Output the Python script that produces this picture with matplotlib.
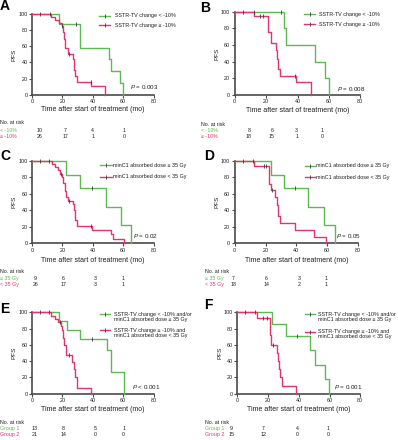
import matplotlib
matplotlib.use('Agg')
import matplotlib.pyplot as plt
from matplotlib.lines import Line2D
import numpy as np

plt.rcParams['font.family'] = ['Liberation Sans', 'DejaVu Sans']
plt.rcParams['mathtext.fontset'] = 'custom'
plt.rcParams['mathtext.it'] = 'Liberation Sans:italic'
plt.rcParams['mathtext.rm'] = 'Liberation Sans'

# ---------------- data ----------------
# Panel A
A_green_t = [0, 18, 31.5, 50.5, 52, 58, 60]
A_green_s = [100, 87.5, 58.3, 43.8, 29.2, 14.6, 0]
A_green_cens = [5, 12, 29]
A_red_t = [0, 12.5, 15, 18, 19.5, 20.3, 21, 22, 23.5, 27, 27.8, 28.5, 29.3, 39, 48.3]
A_red_s = [100, 96.2, 92.3, 88.5, 84.6, 76.9, 69.2, 57.7, 50, 43.8, 31.3, 23.1, 16.5, 11, 0]
A_red_cens = [19.5, 24, 38.5]
A_risk_green = [10, 7, 4, 1]
A_risk_red = [26, 17, 1, 0]

# Panel B
B_green_t = [0, 31.4, 32.5, 51, 57.3, 60]
B_green_s = [100, 80, 60, 40, 20, 0]
B_green_cens = [5.5, 12, 29.7]
B_red_t = [0, 12, 21, 23.4, 26, 27, 27.6, 28.7, 38.9, 48.4]
B_red_s = [100, 94.4, 75.5, 62.9, 54, 43, 31, 23, 15.6, 0]
B_red_cens = [16, 18, 38.5]
B_risk_green = [8, 6, 3, 1]
B_risk_red = [18, 15, 1, 0]

# Panel C
C_green_t = [0, 22.4, 31.5, 48.5, 58.3, 65.2]
C_green_s = [100, 83.3, 66.7, 44.4, 22.2, 0]
C_green_cens = [5, 11.5, 39.5]
C_red_t = [0, 13, 15, 17.3, 18.4, 19.5, 20.6, 21.7, 22.4, 23.5, 26.7, 27.6, 28.3, 29.4, 39.2, 52, 53.5, 60.5]
C_red_s = [100, 96.2, 92.3, 88.5, 84.6, 80.8, 72.7, 64, 56, 52, 48, 40, 28, 20.5, 16, 11, 5.5, 0]
C_red_cens = [19, 24, 39]
C_risk_green = [9, 6, 3, 1]
C_risk_red = [26, 17, 3, 1]

# Panel D
D_green_t = [0, 23.4, 32, 47.6, 58, 64.9]
D_green_s = [100, 83.3, 66.7, 44.4, 22.2, 0]
D_green_cens = [5.4, 11.9, 39]
D_red_t = [0, 12.5, 22, 23.4, 26.4, 27.5, 28.1, 29.2, 38.9, 51.2, 59.5]
D_red_s = [100, 94.4, 71.7, 64.8, 56.7, 46.6, 33, 24.3, 16.2, 8.1, 0]
D_red_cens = [19, 20.5, 24]
D_risk_green = [7, 6, 3, 1]
D_risk_red = [18, 14, 2, 1]

# Panel E
E_green_t = [0, 18, 23.2, 31.6, 49.2, 52, 60.5]
E_green_s = [100, 88.9, 77.8, 66.7, 53.3, 26.7, 0]
E_green_cens = [5, 11, 39.2]
E_red_t = [0, 12.6, 15, 17, 19, 20, 20.6, 21.3, 22.5, 26.5, 27.4, 28.3, 29.3, 38.7]
E_red_s = [100, 95.2, 92, 88, 83, 78, 69, 60, 47, 39, 30, 20, 7, 0]
E_red_cens = [18.5, 24]
E_risk_green = [13, 8, 5, 1]
E_risk_red = [21, 14, 0, 0]

# Panel F
F_green_t = [0, 22.8, 31.5, 47.5, 50.3, 56.8, 59.7]
F_green_s = [100, 85.7, 71.4, 53.6, 35.7, 17.9, 0]
F_green_cens = [5, 11.3, 39]
F_red_t = [0, 13, 21, 21.8, 25.5, 26.5, 27.3, 28, 28.8, 38.5]
F_red_s = [100, 93.3, 72, 60, 50, 40, 30, 20, 10, 0]
F_red_cens = [17, 19, 23]
F_risk_green = [9, 7, 4, 1]
F_risk_red = [15, 12, 0, 0]

x_ticks = [0, 20, 40, 60, 80]
y_ticks = [0, 20, 40, 60, 80, 100]

lab_AB = ['SSTR-TV change < -10%', 'SSTR-TV change \u2265 -10%']
lab_CD = ['minC1 absorbed dose \u2265 35 Gy', 'minC1 absorbed dose < 35 Gy']
lab_EF = [['SSTR-TV change < -10% and/or', 'minC1 absorbed dose \u2265 35 Gy'],
          ['SSTR-TV change \u2265 -10% and', 'minC1 absorbed dose < 35 Gy']]
risk_AB = ['< -10%', '\u2265 -10%']
risk_CD = ['\u2265 35 Gy', '< 35 Gy']
risk_EF = ['Group 1', 'Group 2']
pvals = {'A': '= 0.003', 'B': '= 0.008', 'C': '= 0.02', 'D': '= 0.05', 'E': '< 0.001', 'F': '= 0.001'}

# ---------------- layout ----------------
W, H = 398, 440
fig = plt.figure(figsize=(W / 100, H / 100), dpi=100)

def fx(x):
    return x / W

def fy(y):
    return 1 - y / H

GREEN = '#5CBA55'
RED = '#E4356B'
DARK = '#3c3c3c'
AX = '#4a4a4a'
TXT = '#1e1e1e'

panels = [
    dict(name='A', box=(32, 13.7, 153.7, 95), letter=(0, 10),
         g=(A_green_t, A_green_s, A_green_cens), r=(A_red_t, A_red_s, A_red_cens),
         leg=dict(h=(99, 110), tx=115, rows=[(15.7, [lab_AB[0]]), (25.3, [lab_AB[1]])]),
         p=(159, 87.3), xl=109.3,
         risk=dict(lx=0, ys=(123, 130, 136.8), cols=(40, 65.7, 92.7, 124),
                   labels=risk_AB, g=A_risk_green, r=A_risk_red)),
    dict(name='B', box=(234.7, 11.7, 360.3, 95), letter=(200, 11.5),
         g=(B_green_t, B_green_s, B_green_cens), r=(B_red_t, B_red_s, B_red_cens),
         leg=dict(h=(304, 315.3), tx=318.7, rows=[(14.3, [lab_AB[0]]), (24.3, [lab_AB[1]])]),
         p=(366, 89), xl=110,
         risk=dict(lx=201, ys=(124.5, 130.5, 136.8), cols=(249, 272, 296.7, 322),
                   labels=risk_AB, g=B_risk_green, r=B_risk_red)),
    dict(name='C', box=(32, 161, 153.7, 243.3), letter=(0, 160),
         g=(C_green_t, C_green_s, C_green_cens), r=(C_red_t, C_red_s, C_red_cens),
         leg=dict(h=(100, 111.7), tx=113.3, rows=[(165, [lab_CD[0]]), (176.7, [lab_CD[1]])]),
         p=(158, 236), xl=260,
         risk=dict(lx=0, ys=(271.7, 278, 284.7), cols=(35.7, 63.3, 95.7, 123.3),
                   labels=risk_CD, g=C_risk_green, r=C_risk_red)),
    dict(name='D', box=(234.7, 161, 358, 243.3), letter=(204, 160),
         g=(D_green_t, D_green_s, D_green_cens), r=(D_red_t, D_red_s, D_red_cens),
         leg=dict(h=(304.7, 314.7), tx=315.5, rows=[(165.7, [lab_CD[0]]), (177, [lab_CD[1]])]),
         p=(361, 235.7), xl=260,
         risk=dict(lx=204.7, ys=(271.7, 278, 284.7), cols=(233.7, 266.3, 299, 326.3),
                   labels=risk_CD, g=D_risk_green, r=D_risk_red)),
    dict(name='E', box=(32, 312.3, 153.7, 393.7), letter=(0, 312.7),
         g=(E_green_t, E_green_s, E_green_cens), r=(E_red_t, E_red_s, E_red_cens),
         leg=dict(h=(100, 110), tx=114, rows=[(314.3, lab_EF[0]), (330, lab_EF[1])]),
         p=(160.7, 386.7), xl=409,
         risk=dict(lx=0, ys=(422.5, 428.3, 434.7), cols=(34.3, 63.3, 95.7, 123.7),
                   labels=risk_EF, g=E_risk_green, r=E_risk_red)),
    dict(name='F', box=(237.3, 312.3, 360.3, 393.7), letter=(204, 309.3),
         g=(F_green_t, F_green_s, F_green_cens), r=(F_red_t, F_red_s, F_red_cens),
         leg=dict(h=(304.7, 315.3), tx=318, rows=[(314.3, lab_EF[0]), (331.7, lab_EF[1])]),
         p=(363, 386.7), xl=409,
         risk=dict(lx=205.3, ys=(422.3, 428.3, 434.5), cols=(231.7, 263.7, 297, 328),
                   labels=risk_EF, g=F_risk_green, r=F_risk_red)),
]


def km(ax, t, s, cens, color):
    ax.step(t, s, where='post', color=color, lw=1.0, clip_on=False, zorder=3)
    t = np.asarray(t, float)
    s = np.asarray(s, float)
    idx = np.searchsorted(t, cens, side='right') - 1
    ax.plot(cens, s[idx], ls='none', marker='|', ms=2.4, mew=0.6,
            color=DARK, clip_on=False, zorder=4)


for P in panels:
    l, t, r, b = P['box']
    ax = fig.add_axes([fx(l), fy(b), (r - l) / W, (b - t) / H])
    km(ax, *P['g'], GREEN)
    km(ax, *P['r'], RED)
    ax.set_xlim(0, 80)
    ax.set_ylim(0, 100)
    ax.set_xticks(x_ticks)
    ax.set_yticks(y_ticks)
    for sp in ['top', 'right']:
        ax.spines[sp].set_visible(False)
    for sp in ['left', 'bottom']:
        ax.spines[sp].set_linewidth(1.2)
        ax.spines[sp].set_color(AX)
    ax.tick_params(length=2, width=0.8, color=AX, labelsize=3.9, pad=1.2,
                   labelcolor=TXT)
    ax.patch.set_alpha(0)
    ax.set_xlabel('Time after start of treatment (mo)', fontsize=5, color=TXT)
    ax.xaxis.label.set_va('center')
    ax.xaxis.set_label_coords(0.5, -(P['xl'] - b) / (b - t))
    ax.set_ylabel('PFS', fontsize=4.6, color=TXT)
    ax.yaxis.label.set_va('center')
    ax.yaxis.set_label_coords(-17.5 / (r - l), 0.5)

    # panel letter
    fig.text(fx(P['letter'][0]), fy(P['letter'][1]), P['name'], fontsize=10,
             fontweight='bold', va='baseline', ha='left')

    # legend (drawn manually in Prism style)
    lg = P['leg']
    for (yy, lines), col in zip(lg['rows'], [GREEN, RED]):
        fig.add_artist(Line2D([fx(lg['h'][0]), fx(lg['h'][1])], [fy(yy), fy(yy)],
                              color=col, lw=1.0, transform=fig.transFigure))
        fig.add_artist(Line2D([fx((lg['h'][0] + lg['h'][1]) / 2)], [fy(yy)],
                              marker='|', ms=2.2, mew=0.6, color=DARK, ls='none',
                              transform=fig.transFigure))
        for k, line in enumerate(lines):
            fig.text(fx(lg['tx']), fy(yy + 5.2 * k), line, fontsize=3.9,
                     va='center', ha='left', color=TXT)

    # p-value
    fig.text(fx(P['p'][0]), fy(P['p'][1]), '$\\mathit{P}$ ' + pvals[P['name']],
             fontsize=4.5, ha='right', va='center', color=TXT)

    # risk table
    rk = P['risk']
    fig.text(fx(rk['lx']), fy(rk['ys'][0]), 'No. at risk', fontsize=3.8,
             va='center', ha='left', color=TXT)
    for row, (lab, vals, col) in enumerate(zip(rk['labels'], [rk['g'], rk['r']], [GREEN, RED])):
        yy = rk['ys'][row + 1]
        fig.text(fx(rk['lx']), fy(yy), lab, fontsize=3.8, va='center', ha='left', color=col)
        for cx, v in zip(rk['cols'], vals):
            fig.text(fx(cx), fy(yy), str(v), fontsize=3.8, va='center', ha='center',
                     color=TXT)

fig.savefig('out.png', dpi=100)
